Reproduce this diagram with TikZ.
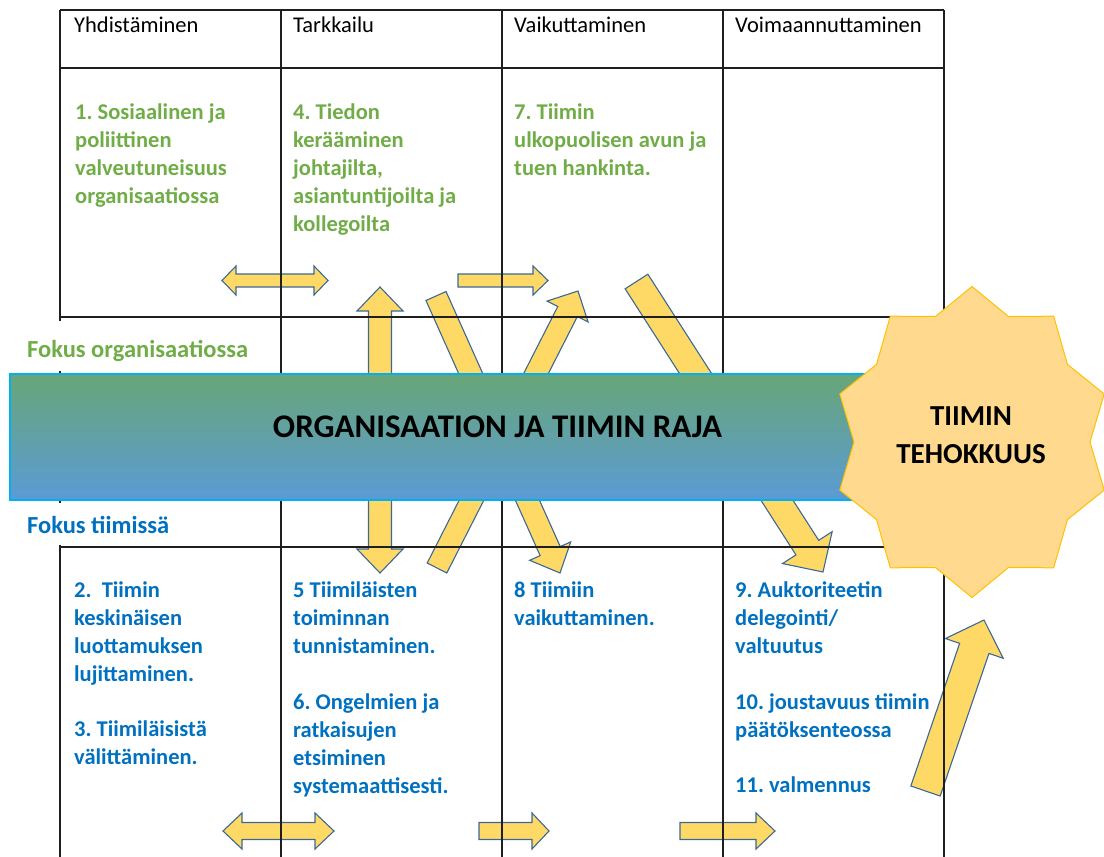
\documentclass[tikz,border=0pt]{standalone}
\usepackage{fontspec}
\setmainfont{Carlito}
\frenchspacing
\usetikzlibrary{calc}
\definecolor{cellGreen}{RGB}{112,173,71}
\definecolor{cellBlue}{RGB}{0,112,192}
\definecolor{arrowFill}{RGB}{255,217,102}
\definecolor{arrowLine}{RGB}{60,104,150}
\definecolor{bandTop}{RGB}{104,166,120}
\definecolor{bandBot}{RGB}{91,155,213}
\definecolor{bandLine}{RGB}{0,176,240}
\definecolor{starFill}{RGB}{255,217,142}
\definecolor{starLine}{RGB}{255,192,0}

% block arrow: tail, tip, half shaft, half head, head length
\newcommand{\blockarrow}[5]{%
  \coordinate (hb) at ($(#2)!#5!(#1)$);
  \draw[blk] ($(#1)!#3!90:(#2)$) -- ($(hb)!#3!90:(#2)$) -- ($(hb)!#4!90:(#2)$) -- (#2)
    -- ($(hb)!#4!-90:(#2)$) -- ($(hb)!#3!-90:(#2)$) -- ($(#1)!#3!-90:(#2)$) -- cycle;
}
% same, with a head at both ends
\newcommand{\dblockarrow}[5]{%
  \coordinate (ha) at ($(#1)!#5!(#2)$);
  \coordinate (hb) at ($(#2)!#5!(#1)$);
  \draw[blk] (#1) -- ($(ha)!#4!90:(#2)$) -- ($(ha)!#3!90:(#2)$) -- ($(hb)!#3!90:(#2)$)
    -- ($(hb)!#4!90:(#2)$) -- (#2) -- ($(hb)!#4!-90:(#2)$) -- ($(hb)!#3!-90:(#2)$)
    -- ($(ha)!#3!-90:(#2)$) -- ($(ha)!#4!-90:(#2)$) -- cycle;
}

\begin{document}
\begin{tikzpicture}[
  x=1pt, y=-1pt,
  grid/.style={black!88, line width=1.4pt},
  blk/.style={fill=arrowFill, draw=arrowLine, line width=1.1pt, line join=miter},
  head/.style={
    anchor=base west,
    inner sep=0pt,
    font=\fontsize{22.5}{28}\selectfont,
  },
  celltxt/.style={
    anchor=base west,
    inner sep=0pt,
    align=left,
    font=\fontsize{22.5}{28}\selectfont\bfseries,
  },
  focus/.style={
    anchor=base west,
    fill=white,
    inner sep=1pt,
    font=\fontsize{24.5}{28}\selectfont\bfseries,
  },
  bandbox/.style={
    rectangle,
    top color=bandTop,
    bottom color=bandBot,
    draw=bandLine,
    line width=1.6pt,
  },
  starshape/.style={fill=starFill, draw=starLine, line width=1pt},
]
  \useasboundingbox (0,0) rectangle (1104,857);

  \coordinate (a1l) at (222,280.5);
  \coordinate (a1r) at (328,280.5);
  \coordinate (a2l) at (458,280.5);
  \coordinate (a2r) at (548,280.5);
  \coordinate (vt) at (380,287);
  \coordinate (vb) at (380,573);
  \coordinate (dAt) at (436,296);
  \coordinate (dAp) at (560,573);
  \coordinate (dBt) at (437,568);
  \coordinate (dBp) at (578,291);
  \coordinate (dCt) at (636.5,281.5);
  \coordinate (dCp) at (823,572);
  \coordinate (dDt) at (925.5,791);
  \coordinate (dDp) at (984,620);
  \coordinate (b1l) at (223,831);
  \coordinate (b1r) at (334,831);
  \coordinate (b2l) at (479,831);
  \coordinate (b2r) at (549,831);
  \coordinate (b3l) at (680,831);
  \coordinate (b3r) at (775,831);

  \dblockarrow{a1l}{a1r}{6.5pt}{14.5pt}{14pt}
  \blockarrow{a2l}{a2r}{6.5pt}{14.5pt}{15pt}
  \dblockarrow{vt}{vb}{11.5pt}{23pt}{24pt}
  \blockarrow{dAt}{dAp}{11pt}{22.5pt}{24pt}
  \blockarrow{dBt}{dBp}{11pt}{23pt}{23pt}
  \blockarrow{dCt}{dCp}{13.5pt}{29.5pt}{29pt}
  \blockarrow{dDt}{dDp}{15.5pt}{30.5pt}{30pt}
  \dblockarrow{b1l}{b1r}{8.5pt}{18pt}{19pt}
  \blockarrow{b2l}{b2r}{8.5pt}{18pt}{17pt}
  \blockarrow{b3l}{b3r}{8.5pt}{18pt}{19pt}

  \draw[grid] (60,10) -- (944,10);
  \draw[grid] (60,68) -- (944,68);
  \draw[grid] (60,317) -- (944,317);
  \draw[grid] (60,547) -- (944,547);
  \draw[grid] (60,10) -- (60,857);
  \draw[grid] (281,10) -- (281,857);
  \draw[grid] (502,10) -- (502,857);
  \draw[grid] (723,10) -- (723,857);
  \draw[grid] (944,10) -- (944,857);

  \node[head] (h1) at (74,32) {Yhdistäminen};
  \node[head] (h2) at (293,32) {Tarkkailu};
  \node[head] (h3) at (514,32) {Vaikuttaminen};
  \node[head] (h4) at (735,32) {Voimaannuttaminen};

  % cell texts sit on the baseline of their last line
  \node[celltxt, text=cellGreen] (o1) at (75,203)
    {1. Sosiaalinen ja\\poliittinen\\valveutuneisuus\\organisaatiossa};
  \node[celltxt, text=cellGreen] (o2) at (293,231)
    {4. Tiedon\\kerääminen\\johtajilta,\\asiantuntijoilta ja\\kollegoilta};
  \node[celltxt, text=cellGreen] (o3) at (514,175)
    {7. Tiimin\\ulkopuolisen avun ja\\tuen hankinta.};

  \node[celltxt, text=cellBlue] (t1) at (74,764)
    {2.\ \ Tiimin\\keskinäisen\\luottamuksen\\lujittaminen.\\[27pt]3. Tiimiläisistä\\välittäminen.};
  \node[celltxt, text=cellBlue] (t2) at (293,793)
    {5 Tiimiläisten\\toiminnan\\tunnistaminen.\\[28pt]6. Ongelmien ja\\ratkaisujen\\etsiminen\\systemaattisesti.};
  \node[celltxt, text=cellBlue] (t3) at (514,625)
    {8 Tiimiin\\vaikuttaminen.};
  \node[celltxt, text=cellBlue] (t4) at (735,792)
    {9. Auktoriteetin\\delegointi/\\valtuutus\\[28pt]10. joustavuus tiimin\\päätöksenteossa\\[27pt]11. valmennus};

  \node[focus, text=cellGreen, text height=35pt, text depth=13pt] (fOrg) at (26,357)
    {Fokus organisaatiossa};
  \node[focus, text=cellBlue, text height=29pt, text depth=11pt] (fTeam) at (26,533)
    {Fokus tiimissä};

  \node[bandbox, minimum width=890pt, minimum height=126pt] (band) at (455,437) {};
  \node[anchor=base, inner sep=0pt, font=\fontsize{33}{38}\selectfont\bfseries] (bandlbl)
    at (497.5,437) {ORGANISAATION JA TIIMIN RAJA};

  \begin{scope}[shift={(972,442)}]
    \draw[starshape] (90:139 and 155.5)
      \foreach \a in {0,36,...,324}{ -- ({108+\a}:118 and 132) -- ({126+\a}:139 and 155.5)}
      -- cycle;
  \end{scope}
  \node[anchor=base, inner sep=0pt, align=center, font=\fontsize{29}{38}\selectfont\bfseries] (eff)
    at (971,463) {TIIMIN\\TEHOKKUUS};

\end{tikzpicture}
\end{document}
